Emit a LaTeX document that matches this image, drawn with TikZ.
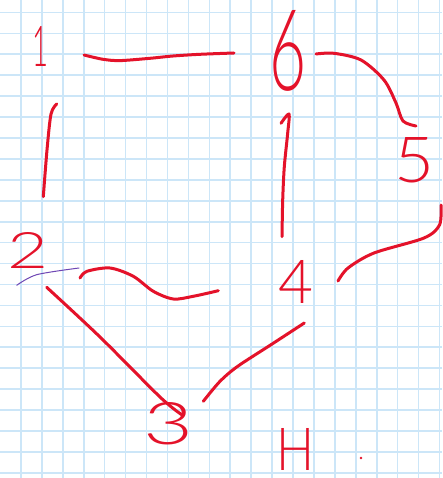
\documentclass[tikz,border=0pt]{standalone}
\usepackage{fontspec}
\newfontfamily\hand{Lato Light}
\definecolor{ink}{RGB}{228,18,42}
\definecolor{gridblue}{RGB}{204,230,248}
\definecolor{pen}{RGB}{110,70,180}
\begin{document}
\begin{tikzpicture}[x=1pt,y=-1pt,
  edge/.style={draw=ink,line width=3pt,line cap=round,line join=round},
  digit/.style={text=ink,inner sep=0pt,font=\hand},
  gridline/.style={draw=gridblue,line width=1.6pt}]
\useasboundingbox (0,0) rectangle (442,478);
\fill[white] (0,0) rectangle (442,478);
\foreach \i in {1,...,21} \draw[gridline] ({20.93*\i},0) -- ({20.93*\i},478);
\foreach \j in {0,...,22} \draw[gridline] (0,{12.4+20.93*\j}) -- (442,{12.4+20.93*\j});
% labels
\node[digit] (n1) at (41,46) {\resizebox{16pt}{40pt}{1}};
\node[digit] (n6) at (288,51) {\resizebox{37pt}{80pt}{6}};
\node[digit] (n5) at (415,160) {\resizebox{40pt}{45pt}{5}};
\node[digit] (n2) at (28,250) {\resizebox{41pt}{36pt}{2}};
\node[digit] (n4) at (296,282) {\resizebox{35pt}{43pt}{4}};
\node[digit] (n3) at (169,424) {\resizebox{50pt}{42pt}{3}};
\node[digit] (nH) at (296,449) {\resizebox{38pt}{42pt}{H}};
% connector end points
\coordinate (a16) at (84,55);   \coordinate (b16) at (234,53);
\coordinate (a12) at (56.7,104); \coordinate (b12) at (43.3,196.7);
\coordinate (a64) at (281,123.3); \coordinate (b64) at (282,236.7);
\coordinate (a65) at (316,54);  \coordinate (b65) at (416,126);
\coordinate (a54) at (441,205); \coordinate (b54) at (338,281);
\coordinate (a24) at (80,278);  \coordinate (b24) at (218.3,290.7);
\coordinate (ap) at (16.7,285.3); \coordinate (bp) at (79,268);
\coordinate (a23) at (46.7,287.3); \coordinate (b23) at (181.7,414.7);
\coordinate (a34) at (203.3,401.3); \coordinate (b34) at (304.3,323);
% connectors
\draw[edge] plot[smooth] coordinates {(a16) (103,59.3) (120,60.6) (150,58.3) (173,56) (200,54.3) (b16)};
\draw[edge] plot[smooth] coordinates {(a12) (51,114) (47,150) (b12)};
\draw[edge] plot[smooth] coordinates {(a64) (289,114) (287.7,133) (284.3,166.7) (282.7,200) (b64)};
\draw[edge] plot[smooth] coordinates {(a65) (334,53.3) (361,60) (384,80) (396,103) (403,121) (b65)};
\draw[edge] plot[smooth] coordinates {(a54) (439.5,225) (424,238) (374,253) (348,268) (b54)};
\draw[edge] plot[smooth] coordinates {(a24) (87,271.3) (110,268) (133.3,276.3) (153.3,291.3) (173.3,299) (193.3,296.3) (b24)};
\draw[draw=pen,line width=1pt,line cap=round] plot[smooth] coordinates {(ap) (36.7,274.7) (bp)};
\draw[edge] plot[smooth] coordinates {(a23) (100,337) (160,397) (b23)};
\draw[edge] plot[smooth] coordinates {(a34) (220,381.3) (237.7,366.3) (271,344.7) (b34)};
\fill[ink] (361,458) circle (1.3pt);
\end{tikzpicture}
\end{document}
